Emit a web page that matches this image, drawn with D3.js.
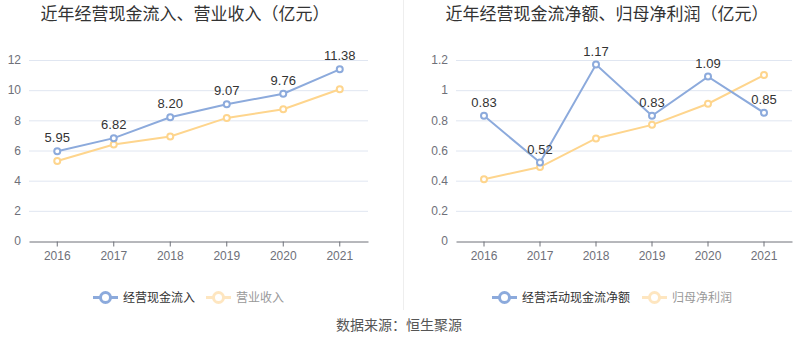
<!DOCTYPE html>
<html><head><meta charset="utf-8">
<script src="https://cdn.jsdelivr.net/npm/d3@7/dist/d3.min.js"></script>
<style>body{margin:0;background:#fff;}svg{display:block;font-family:"Liberation Sans","Noto Sans CJK SC",sans-serif;}</style>
</head><body><svg id="c" width="800" height="358"></svg>
<script>
const years = ["2016","2017","2018","2019","2020","2021"];
const cashInflow = [5.95,6.82,8.20,9.07,9.76,11.38];
const revenue = [5.30,6.40,6.93,8.16,8.74,10.06];
const netCash = [0.83,0.52,1.17,0.83,1.09,0.85];
const netProfit = [0.41,0.49,0.68,0.77,0.91,1.10];
const leftTicks = [0,2,4,6,8,10,12];
const rightTicks = [0,0.2,0.4,0.6,0.8,1,1.2];

const svg = d3.select("#c");
const BLUE = "#8caadc", ORANGE = "#fed58d";

// divider
svg.append("line").attr("x1",403.5).attr("x2",403.5).attr("y1",0).attr("y2",310)
  .attr("stroke","#eeeeee").attr("stroke-width",1);

function panel(cfg){
  const g = svg.append("g");
  g.append("text").attr("x",cfg.titleX).attr("y",20).attr("text-anchor","middle")
    .attr("font-size",17).attr("fill","#333").text(cfg.title);
  const x = d3.scaleBand().domain(years).range(cfg.xr);
  const y = d3.scaleLinear().domain([0,cfg.max]).range([241,60]);
  g.selectAll(".grid").data(cfg.ticks.slice(1)).enter().append("line")
    .attr("x1",cfg.xr[0]).attr("x2",cfg.xr[1]).attr("y1",d=>y(d)+0.5).attr("y2",d=>y(d)+0.5)
    .attr("stroke","#e0e6f1");
  g.selectAll(".yl").data(cfg.ticks).enter().append("text")
    .attr("x",cfg.xr[0]-8).attr("y",d=>y(d)).attr("dy","0.35em").attr("text-anchor","end")
    .attr("font-size",12).attr("fill","#6e7079").text(d=>d);
  const ax = g.append("g").attr("transform","translate(0,241.5)")
    .call(d3.axisBottom(x).tickSize(5).tickSizeOuter(0).tickPadding(5));
  ax.select(".domain").attr("stroke","#6e7079");
  ax.selectAll(".tick line").attr("stroke","#6e7079");
  ax.selectAll(".tick text").attr("font-size",12).attr("fill","#6e7079").attr("font-family","inherit");
  const cx = d=>x(d)+x.bandwidth()/2;
  const series = [{v:cfg.s2,c:ORANGE},{v:cfg.s1,c:BLUE}];
  series.forEach(s=>{
    const line = d3.line().x((d,i)=>cx(years[i])).y(d=>y(d));
    g.append("path").datum(s.v).attr("d",line).attr("fill","none").attr("stroke",s.c).attr("stroke-width",2);
    g.selectAll(null).data(s.v).enter().append("circle")
      .attr("cx",(d,i)=>cx(years[i])).attr("cy",d=>y(d)).attr("r",3)
      .attr("fill","#fff").attr("stroke",s.c).attr("stroke-width",2);
  });
  g.selectAll(null).data(cfg.s1).enter().append("text")
    .attr("x",(d,i)=>cx(years[i])).attr("y",d=>y(d)-9).attr("text-anchor","middle")
    .attr("font-size",13).attr("fill","#333").text(d=>d.toFixed(2));
  cfg.legend.forEach(l=>{
    const lg = g.append("g");
    lg.append("line").attr("x1",l.x).attr("x2",l.x+25).attr("y1",297.5).attr("y2",297.5)
      .attr("stroke",l.c).attr("stroke-width",3);
    lg.append("circle").attr("cx",l.x+12.5).attr("cy",297.5).attr("r",5)
      .attr("fill","#fff").attr("stroke",l.c).attr("stroke-width",3);
    lg.append("text").attr("x",l.x+30).attr("y",297.5).attr("dy","0.36em")
      .attr("font-size",12).attr("fill",l.tc).attr("font-family","Noto Sans CJK SC").text(l.t);
  });
}

panel({title:"近年经营现金流入、营业收入（亿元）",titleX:185,xr:[29,368],max:12,ticks:leftTicks,
  s1:cashInflow,s2:revenue,
  legend:[{x:93,c:BLUE,t:"经营现金流入",tc:"#333"},{x:206,c:"#fee6c0",t:"营业收入",tc:"#999"}]});
panel({title:"近年经营现金流净额、归母净利润（亿元）",titleX:607,xr:[456,792],max:1.2,ticks:rightTicks,
  s1:netCash,s2:netProfit,
  legend:[{x:492,c:BLUE,t:"经营活动现金流净额",tc:"#333"},{x:642,c:"#fee6c0",t:"归母净利润",tc:"#999"}]});

svg.append("text").attr("x",399).attr("y",325).attr("dy","0.36em").attr("text-anchor","middle")
  .attr("font-size",14).attr("fill","#555").text("数据来源：恒生聚源");
</script></body></html>
